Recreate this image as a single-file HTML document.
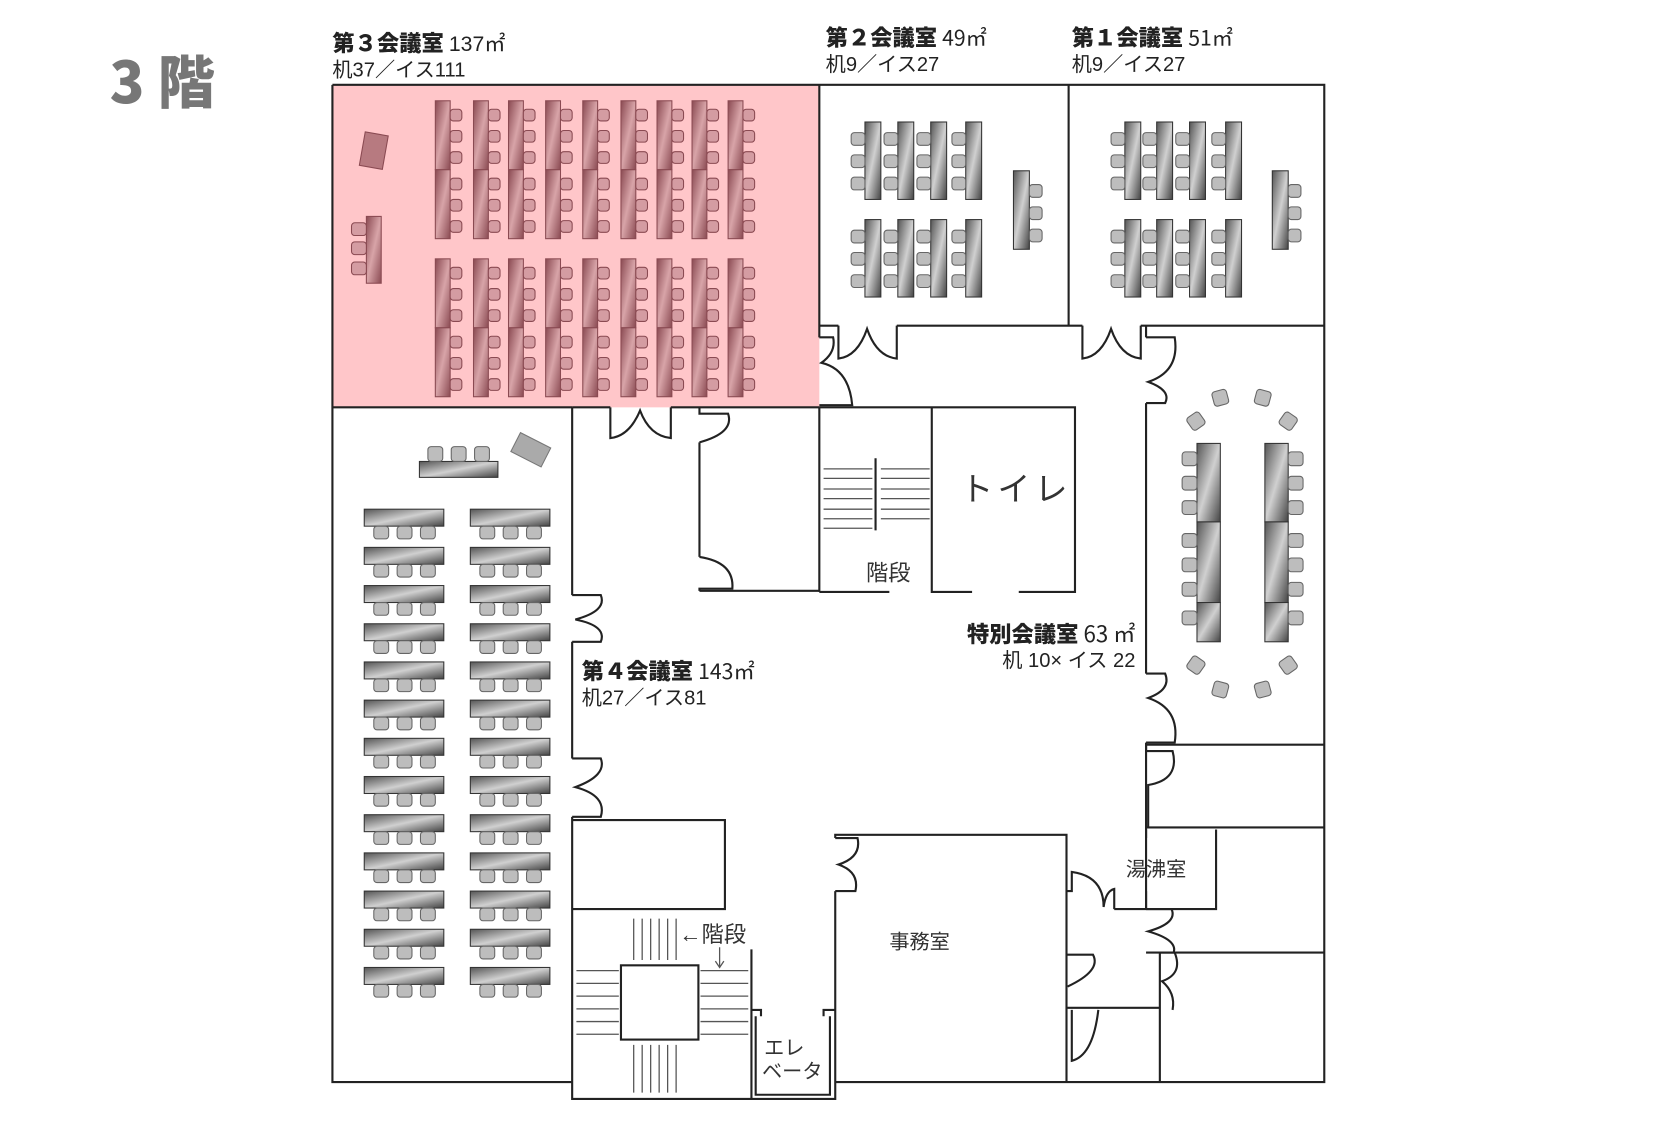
<!DOCTYPE html>
<html><head><meta charset="utf-8">
<style>
html,body{margin:0;padding:0;background:#fff;}
svg{display:block;}
.w{fill:none;stroke:#222;stroke-width:2;}
.t{font-family:"Liberation Sans","Noto Sans CJK JP",sans-serif;fill:#222;}
.b{font-family:"Noto Sans CJK JP","Liberation Sans",sans-serif;font-weight:900;fill:#222;}
.l{font-family:"Liberation Sans","Noto Sans CJK JP",sans-serif;fill:#333;}
</style></head>
<body>
<svg id="s" width="1662" height="1134" viewBox="0 0 1566 1069" xmlns="http://www.w3.org/2000/svg">
<defs>
<linearGradient id="g" x1="0" y1="0" x2="1" y2="1">
<stop offset="0" stop-color="#555"/><stop offset="0.5" stop-color="#d0d0d0"/><stop offset="1" stop-color="#444"/>
</linearGradient>
<linearGradient id="p" x1="0" y1="0" x2="1" y2="1">
<stop offset="0" stop-color="#8a4a52"/><stop offset="0.5" stop-color="#d8a4a8"/><stop offset="1" stop-color="#8a4a52"/>
</linearGradient>
</defs>

<text x="103" y="97" style="font-family:'Noto Sans CJK JP','Liberation Sans',sans-serif;font-weight:900;font-size:54px;fill:#777">3 階</text>

<rect x="313" y="80" width="459" height="304" fill="#ffc6c9"/>

<text x="313" y="48" class="b" font-size="21">第３会議室 <tspan class="t" style="font-weight:400" font-size="20">137㎡</tspan></text>
<text x="313" y="72" class="t" font-size="19">机37／イス111</text>
<text x="778" y="43" class="b" font-size="21">第２会議室 <tspan style="font-weight:400" font-size="20">49㎡</tspan></text>
<text x="778" y="67" class="t" font-size="19">机9／イス27</text>
<text x="1010" y="43" class="b" font-size="21">第１会議室 <tspan style="font-weight:400" font-size="20">51㎡</tspan></text>
<text x="1010" y="67" class="t" font-size="19">机9／イス27</text>
<text x="548" y="640" class="b" font-size="21">第４会議室 <tspan style="font-weight:400" font-size="20">143㎡</tspan></text>
<text x="548" y="664" class="t" font-size="19">机27／イス81</text>
<text x="1070" y="605" class="b" font-size="21" text-anchor="end">特別会議室 <tspan style="font-weight:400">63 ㎡</tspan></text>
<text x="1070" y="629" class="t" font-size="19" text-anchor="end">机 10× イス 22</text>
<text x="905" y="472" class="l" font-size="31" letter-spacing="4">トイレ</text>
<text x="816" y="547" class="l" font-size="21">階段</text>
<text x="640" y="888" class="l" font-size="21">←階段</text>
<text x="838" y="894" class="l" font-size="19">事務室</text>
<text x="1061" y="826" class="l" font-size="19">湯沸室</text>
<text x="720" y="994" class="l" font-size="19">エレ</text>
<text x="718" y="1016" class="l" font-size="19">ベータ</text>

<g id="furn"></g>

<g class="w">
<path d="M313,80 H1248 V1020 H787"/>
<path d="M539,1020 H313 V80"/>
<path d="M772,80 V318 M772,384 V558"/>
<path d="M313,384 H539"/>
<path d="M539,384 H575 M632,384 H772"/>
<path d="M1007,80 V307"/>
<path d="M772,307 H790 M845,307 H1020 M1075,307 H1248"/>
<path d="M772,384 H1013 V558 H960 M916,558 H878 V384 M772,558 H838"/>
<path d="M659,417 V525 M659,557 H772"/>
<path d="M539,384 V561 M539,605 V715 M539,770 V1036 H787 V1020"/>
<path d="M539,773 H683 V857 H539"/>
<rect x="585" y="910" width="73" height="70"/>
<path d="M708,895 V1036"/>
<path d="M708,952 H717 V958 M712,958 V1032 H782 V958 M776,958 V952 H787"/>
<path d="M787,1020 V840 M787,790 V787 H1005 V1020"/>
<path d="M1080,307 V318 M1080,380 V635 M1080,700 V857"/>
<path d="M1080,702 H1248 M1080,780 H1248 M1080,898 H1248"/>
<path d="M1146,782 V857 H1050 M1093,898 V1020"/>
<path d="M1005,950 H1093"/>
</g>
<g stroke="#555" stroke-width="1.2" fill="none">
<path d="M776,442 H822 M776,451 H822 M776,461 H822 M776,470 H822 M776,480 H822 M776,489 H822 M776,498 H822"/>
<path d="M830,442 H876 M830,451 H876 M830,461 H876 M830,470 H876 M830,480 H876 M830,489 H876"/>
<path d="M825,432 V500" stroke="#222" stroke-width="2"/>
<path d="M597,866 V905 M605,866 V905 M613,866 V905 M621,866 V905 M629,866 V905 M637,866 V905"/>
<path d="M597,985 V1030 M605,985 V1030 M613,985 V1030 M621,985 V1030 M629,985 V1030 M637,985 V1030"/>
<path d="M543,915 H583 M543,927 H583 M543,939 H583 M543,951 H583 M543,963 H583 M543,975 H583"/>
<path d="M660,915 H705 M660,927 H705 M660,939 H705 M660,951 H705 M660,963 H705 M660,975 H705"/>
<path d="M678,893 V912 M674,906 L678,912 L682,906"/>
</g>
<g class="w" stroke-width="1.8">
<path d="M790,307 V338 Q808,336 817,310 Q826,336 845,338 V307"/>
<path d="M1020,307 V338 Q1038,336 1047,310 Q1056,336 1075,338 V307"/>
<path d="M575,384 V413 Q593,411 603,387 Q612,411 632,413 V384"/>
<path d="M772,318 H785 Q788,332 774,342 Q800,348 803,382 H772"/>
<path d="M659,384 V390 H686 Q692,408 659,417"/>
<path d="M659,525 Q692,530 690,555 H659 V557"/>
<path d="M539,561 H566 Q572,576 542,584 Q572,590 566,605 H539"/>
<path d="M539,715 H566 Q572,731 542,742 Q572,750 566,770 H539"/>
<path d="M787,790 H808 Q812,808 790,815 Q810,822 806,840 H787"/>
<path d="M1080,318 H1107 Q1112,350 1082,360 Q1104,368 1098,380 H1080"/>
<path d="M1080,635 H1098 Q1104,650 1082,658 Q1112,668 1107,700 H1080"/>
<path d="M1080,702 V708 H1105 Q1112,735 1082,740 V780"/>
<path d="M1080,782 V790 M1080,840 V857"/>
<path d="M1080,857 H1104 Q1110,870 1082,878 Q1110,886 1106,898"/>
<path d="M1005,840 H1010 V822 Q1040,826 1040,855 Q1042,840 1050,838 V857"/>
<path d="M1005,900 H1030 Q1038,915 1006,930"/>
<path d="M1093,898 H1107 Q1115,918 1095,925 Q1108,936 1105,952"/>
<path d="M1010,952 V1000 Q1030,995 1035,952"/>
</g>
</svg>
<script>
var NS="http://www.w3.org/2000/svg",F=document.getElementById('furn');
function r(x,y,w,h,fill,st,rx,tr){var e=document.createElementNS(NS,'rect');e.setAttribute('x',x);e.setAttribute('y',y);e.setAttribute('width',w);e.setAttribute('height',h);e.setAttribute('fill',fill);e.setAttribute('stroke',st);e.setAttribute('stroke-width',1);if(rx)e.setAttribute('rx',rx);if(tr)e.setAttribute('transform',tr);F.appendChild(e);}
var CH='#bdbdbd',CS='#666',DS='#333';
var PC='#d49ca2',PS='#8a4a52';
var cols=[410,446,479,514,549,585,619,652,686],rows=[95,160,244,309];
cols.forEach(function(x){rows.forEach(function(y){r(x,y,14,65,'url(#p)',PS);[8,28,48].forEach(function(o){r(x+14,y+o,11,11,PC,PS,3);});});});
r(345,204,14,63,'url(#p)',PS);[210,228,247].forEach(function(y){r(331,y,14,12,PC,PS,3);});
r(341,126,22,32,'#b77a80','#8a4a52',0,'rotate(10 352 142)');
function grp(xs,lect){xs.forEach(function(x){[115,207].forEach(function(y){r(x,y,15,73,'url(#g)',DS);[10,31,52].forEach(function(o){r(x-13,y+o,13,12,CH,CS,3);});});});
r(lect,161,15,74,'url(#g)',DS);[174,195,216].forEach(function(y){r(lect+15,y,12,12,CH,CS,3);});}
grp([815,846,877,910],955);grp([1060,1090,1121,1155],1199);
r(395,435,74,15,'url(#g)',DS);[403,425,447].forEach(function(x){r(x,421,14,14,CH,CS,3);});
r(484,414,32,20,'#aaa','#777',0,'rotate(27 500 424)');
for(var i=0;i<13;i++){var y=480+i*36;[343,443].forEach(function(x){r(x,y,75,16,'url(#g)',DS);[9,31,53].forEach(function(o){r(x+o,y+16,14,12,CH,CS,3);});});}
[1128,1192].forEach(function(x){r(x,418,22,74,'url(#g)',DS);r(x,492,22,76,'url(#g)',DS);r(x,568,22,37,'url(#g)',DS);});
[432,455,478,509,532,555,582].forEach(function(y){r(1114,y-6,14,13,CH,CS,3);r(1214,y-6,14,13,CH,CS,3);});
[[1150,375,-15],[1190,375,15],[1127,397,-35],[1214,397,35],[1127,627,35],[1214,627,-35],[1150,650,15],[1190,650,-15]].forEach(function(c){r(c[0]-7,c[1]-7,14,14,CH,CS,3,'rotate('+c[2]+' '+c[0]+' '+c[1]+')');});
</script>
</body></html>
